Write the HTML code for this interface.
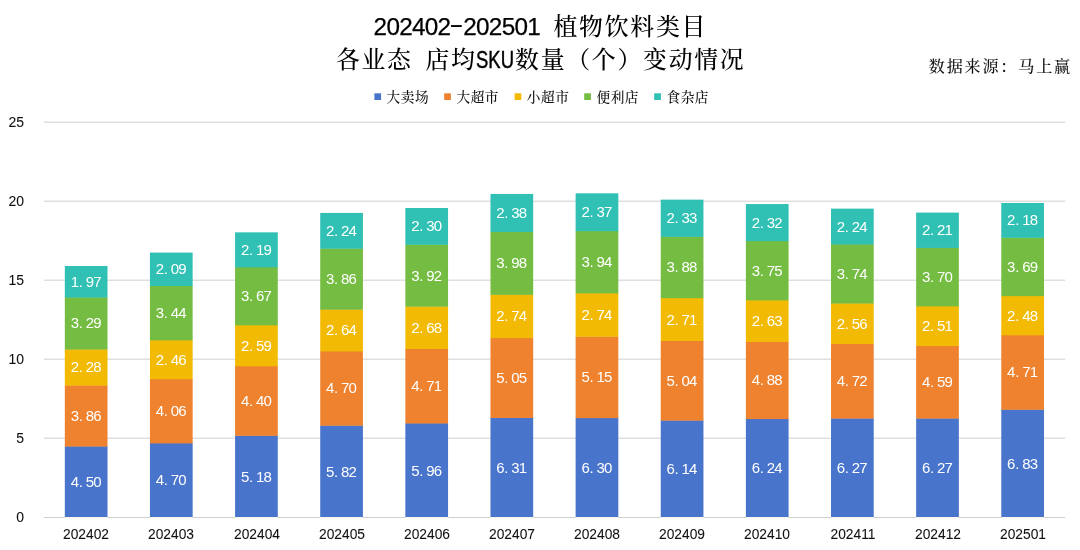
<!DOCTYPE html>
<html lang="zh-CN"><head><meta charset="utf-8"><title>植物饮料类目 店均SKU数量</title>
<style>
html,body{margin:0;padding:0;background:#fff;}
body{width:1080px;height:550px;position:relative;overflow:hidden;font-family:"Liberation Sans","Noto Sans CJK SC",sans-serif;color:#111;}
svg{position:absolute;left:0;top:0;}
.yl{position:absolute;left:0;width:24.1px;text-align:right;font-size:15.2px;line-height:16px;height:16px;color:#111;-webkit-text-stroke:0.08px #111;transform:scaleX(.92);transform-origin:100% 50%;}
.xl{position:absolute;width:86px;text-align:center;font-size:15.2px;line-height:16px;height:16px;top:526px;color:#111;-webkit-text-stroke:0.08px #111;transform:scaleX(.907);transform-origin:50% 50%;}
.dl{position:absolute;width:60px;text-align:center;color:#fff;font-size:15px;letter-spacing:-0.84px;line-height:16px;height:16px;font-family:"Liberation Sans",sans-serif;white-space:nowrap;}
.dl i{display:inline-block;width:7px;padding-left:0.5px;text-align:left;font-style:normal;letter-spacing:0;}
.t{position:absolute;left:0;width:1080px;text-align:center;font-size:24.3px;letter-spacing:-0.71px;line-height:32px;height:32px;color:#000;-webkit-text-stroke:0.25px #000;font-family:"Liberation Sans",sans-serif;white-space:nowrap;}
.t .k{margin-left:0.7px;margin-right:-0.7px;font-weight:500;-webkit-text-stroke:0;font-size:23.9px;letter-spacing:1.7px;font-family:"Liberation Serif","Noto Serif CJK SC",serif;}
.t .h{display:inline-block;width:12.8px;text-align:center;letter-spacing:0;transform:translateY(-2.5px) scale(1.75,0.95);}
.t .g{display:inline-block;width:12.8px;}
.t .s{-webkit-text-stroke:0.45px #000;display:inline-block;width:38.4px;letter-spacing:0;text-align:left;transform:scaleX(.76);transform-origin:0 50%;}
.src{position:absolute;font-weight:500;font-size:16.1px;letter-spacing:1.8px;line-height:20px;font-family:"Liberation Serif","Noto Serif CJK SC",serif;color:#111;white-space:nowrap;}
.lg{position:absolute;font-weight:500;font-size:13.7px;letter-spacing:0.55px;line-height:16px;height:16px;font-family:"Liberation Serif","Noto Serif CJK SC",serif;color:#111;white-space:nowrap;}
</style></head><body>
<svg width="1080" height="550" viewBox="0 0 1080 550">
<line x1="43.8" x2="1065.2" y1="438.28" y2="438.28" stroke="#dfdfdf" stroke-width="1.4"/>
<line x1="43.8" x2="1065.2" y1="359.26" y2="359.26" stroke="#dfdfdf" stroke-width="1.4"/>
<line x1="43.8" x2="1065.2" y1="280.24" y2="280.24" stroke="#dfdfdf" stroke-width="1.4"/>
<line x1="43.8" x2="1065.2" y1="201.22" y2="201.22" stroke="#dfdfdf" stroke-width="1.4"/>
<line x1="43.8" x2="1065.2" y1="122.20" y2="122.20" stroke="#dfdfdf" stroke-width="1.4"/>
<line x1="43.8" x2="1065.2" y1="517.50" y2="517.50" stroke="#cfcfcf" stroke-width="1.1"/>
<rect x="64.82" y="446.18" width="42.7" height="70.82" fill="#4874CB"/><rect x="64.82" y="385.18" width="42.7" height="61.40" fill="#EE822F"/><rect x="64.82" y="349.15" width="42.7" height="36.43" fill="#F2BA02"/><rect x="64.82" y="297.15" width="42.7" height="52.40" fill="#75BD42"/><rect x="64.82" y="266.02" width="42.7" height="31.53" fill="#30C0B4"/><rect x="64.82" y="517.00" width="42.7" height="1.2" fill="#f8f5ee"/>
<rect x="149.95" y="443.02" width="42.7" height="73.98" fill="#4874CB"/><rect x="149.95" y="378.86" width="42.7" height="64.56" fill="#EE822F"/><rect x="149.95" y="339.98" width="42.7" height="39.28" fill="#F2BA02"/><rect x="149.95" y="285.61" width="42.7" height="54.77" fill="#75BD42"/><rect x="149.95" y="252.58" width="42.7" height="33.43" fill="#30C0B4"/><rect x="149.95" y="517.00" width="42.7" height="1.2" fill="#f8f5ee"/>
<rect x="235.08" y="435.44" width="42.7" height="81.56" fill="#4874CB"/><rect x="235.08" y="365.90" width="42.7" height="69.94" fill="#EE822F"/><rect x="235.08" y="324.97" width="42.7" height="41.33" fill="#F2BA02"/><rect x="235.08" y="266.96" width="42.7" height="58.40" fill="#75BD42"/><rect x="235.08" y="232.35" width="42.7" height="35.01" fill="#30C0B4"/><rect x="235.08" y="517.00" width="42.7" height="1.2" fill="#f8f5ee"/>
<rect x="320.22" y="425.32" width="42.7" height="91.68" fill="#4874CB"/><rect x="320.22" y="351.04" width="42.7" height="74.68" fill="#EE822F"/><rect x="320.22" y="309.32" width="42.7" height="42.12" fill="#F2BA02"/><rect x="320.22" y="248.32" width="42.7" height="61.40" fill="#75BD42"/><rect x="320.22" y="212.91" width="42.7" height="35.80" fill="#30C0B4"/><rect x="320.22" y="517.00" width="42.7" height="1.2" fill="#f8f5ee"/>
<rect x="405.35" y="423.11" width="42.7" height="93.89" fill="#4874CB"/><rect x="405.35" y="348.67" width="42.7" height="74.84" fill="#EE822F"/><rect x="405.35" y="306.32" width="42.7" height="42.75" fill="#F2BA02"/><rect x="405.35" y="244.36" width="42.7" height="62.35" fill="#75BD42"/><rect x="405.35" y="208.02" width="42.7" height="36.75" fill="#30C0B4"/><rect x="405.35" y="517.00" width="42.7" height="1.2" fill="#f8f5ee"/>
<rect x="490.48" y="417.58" width="42.7" height="99.42" fill="#4874CB"/><rect x="490.48" y="337.77" width="42.7" height="80.21" fill="#EE822F"/><rect x="490.48" y="294.46" width="42.7" height="43.70" fill="#F2BA02"/><rect x="490.48" y="231.56" width="42.7" height="63.30" fill="#75BD42"/><rect x="490.48" y="193.95" width="42.7" height="38.01" fill="#30C0B4"/><rect x="490.48" y="517.00" width="42.7" height="1.2" fill="#f8f5ee"/>
<rect x="575.62" y="417.73" width="42.7" height="99.27" fill="#4874CB"/><rect x="575.62" y="336.34" width="42.7" height="81.79" fill="#EE822F"/><rect x="575.62" y="293.04" width="42.7" height="43.70" fill="#F2BA02"/><rect x="575.62" y="230.77" width="42.7" height="62.67" fill="#75BD42"/><rect x="575.62" y="193.32" width="42.7" height="37.86" fill="#30C0B4"/><rect x="575.62" y="517.00" width="42.7" height="1.2" fill="#f8f5ee"/>
<rect x="660.75" y="420.26" width="42.7" height="96.74" fill="#4874CB"/><rect x="660.75" y="340.61" width="42.7" height="80.05" fill="#EE822F"/><rect x="660.75" y="297.78" width="42.7" height="43.23" fill="#F2BA02"/><rect x="660.75" y="236.46" width="42.7" height="61.72" fill="#75BD42"/><rect x="660.75" y="199.64" width="42.7" height="37.22" fill="#30C0B4"/><rect x="660.75" y="517.00" width="42.7" height="1.2" fill="#f8f5ee"/>
<rect x="745.88" y="418.68" width="42.7" height="98.32" fill="#4874CB"/><rect x="745.88" y="341.56" width="42.7" height="77.52" fill="#EE822F"/><rect x="745.88" y="300.00" width="42.7" height="41.96" fill="#F2BA02"/><rect x="745.88" y="240.73" width="42.7" height="59.66" fill="#75BD42"/><rect x="745.88" y="204.06" width="42.7" height="37.07" fill="#30C0B4"/><rect x="745.88" y="517.00" width="42.7" height="1.2" fill="#f8f5ee"/>
<rect x="831.02" y="418.21" width="42.7" height="98.79" fill="#4874CB"/><rect x="831.02" y="343.61" width="42.7" height="74.99" fill="#EE822F"/><rect x="831.02" y="303.16" width="42.7" height="40.86" fill="#F2BA02"/><rect x="831.02" y="244.05" width="42.7" height="59.51" fill="#75BD42"/><rect x="831.02" y="208.65" width="42.7" height="35.80" fill="#30C0B4"/><rect x="831.02" y="517.00" width="42.7" height="1.2" fill="#f8f5ee"/>
<rect x="916.15" y="418.21" width="42.7" height="98.79" fill="#4874CB"/><rect x="916.15" y="345.67" width="42.7" height="72.94" fill="#EE822F"/><rect x="916.15" y="306.00" width="42.7" height="40.07" fill="#F2BA02"/><rect x="916.15" y="247.53" width="42.7" height="58.87" fill="#75BD42"/><rect x="916.15" y="212.60" width="42.7" height="35.33" fill="#30C0B4"/><rect x="916.15" y="517.00" width="42.7" height="1.2" fill="#f8f5ee"/>
<rect x="1001.28" y="409.36" width="42.7" height="107.64" fill="#4874CB"/><rect x="1001.28" y="334.92" width="42.7" height="74.84" fill="#EE822F"/><rect x="1001.28" y="295.73" width="42.7" height="39.59" fill="#F2BA02"/><rect x="1001.28" y="237.41" width="42.7" height="58.72" fill="#75BD42"/><rect x="1001.28" y="202.96" width="42.7" height="34.85" fill="#30C0B4"/><rect x="1001.28" y="517.00" width="42.7" height="1.2" fill="#f8f5ee"/>
<rect x="374.4" y="93.3" width="6.7" height="6.7" fill="#4874CB"/>
<rect x="444.2" y="93.3" width="6.7" height="6.7" fill="#EE822F"/>
<rect x="514.6" y="93.3" width="6.7" height="6.7" fill="#F2BA02"/>
<rect x="584.2" y="93.3" width="6.7" height="6.7" fill="#75BD42"/>
<rect x="654.2" y="93.3" width="6.7" height="6.7" fill="#30C0B4"/>
</svg>
<div class="t" style="top:10.7px">202402<span class="h">-</span>202501<span class="g"> </span><span class="k">植物饮料类目</span></div>
<div class="t" style="top:44px"><span class="k">各业态</span><span class="g"> </span><span class="k">店均</span><span class="s">SKU</span><span class="k">数量（个）变动情况</span></div>
<div class="src" style="left:928.8px;top:57.4px">数据来源：马上赢</div>
<div class="lg" style="left:386.6px;top:89.9px">大卖场</div>
<div class="lg" style="left:456.4px;top:89.9px">大超市</div>
<div class="lg" style="left:526.8px;top:89.9px">小超市</div>
<div class="lg" style="left:596.4px;top:89.9px">便利店</div>
<div class="lg" style="left:666.4px;top:89.9px">食杂店</div>
<div class="yl" style="top:509.10px">0</div>
<div class="yl" style="top:430.08px">5</div>
<div class="yl" style="top:351.06px">10</div>
<div class="yl" style="top:272.04px">15</div>
<div class="yl" style="top:193.02px">20</div>
<div class="yl" style="top:114.00px">25</div>
<div class="dl" style="left:55.67px;top:474.04px">4<i>.</i>50</div>
<div class="dl" style="left:55.67px;top:407.98px">3<i>.</i>86</div>
<div class="dl" style="left:55.67px;top:359.46px">2<i>.</i>28</div>
<div class="dl" style="left:55.67px;top:315.45px">3<i>.</i>29</div>
<div class="dl" style="left:55.67px;top:273.88px">1<i>.</i>97</div>
<div class="xl" style="left:43.32px">202402</div>
<div class="dl" style="left:140.80px;top:472.46px">4<i>.</i>70</div>
<div class="dl" style="left:140.80px;top:403.24px">4<i>.</i>06</div>
<div class="dl" style="left:140.80px;top:351.72px">2<i>.</i>46</div>
<div class="dl" style="left:140.80px;top:305.10px">3<i>.</i>44</div>
<div class="dl" style="left:140.80px;top:261.40px">2<i>.</i>09</div>
<div class="xl" style="left:128.45px">202403</div>
<div class="dl" style="left:225.93px;top:468.67px">5<i>.</i>18</div>
<div class="dl" style="left:225.93px;top:392.97px">4<i>.</i>40</div>
<div class="dl" style="left:225.93px;top:337.73px">2<i>.</i>59</div>
<div class="dl" style="left:225.93px;top:288.26px">3<i>.</i>67</div>
<div class="dl" style="left:225.93px;top:241.96px">2<i>.</i>19</div>
<div class="xl" style="left:213.58px">202404</div>
<div class="dl" style="left:311.07px;top:463.61px">5<i>.</i>82</div>
<div class="dl" style="left:311.07px;top:380.48px">4<i>.</i>70</div>
<div class="dl" style="left:311.07px;top:322.48px">2<i>.</i>64</div>
<div class="dl" style="left:311.07px;top:271.12px">3<i>.</i>86</div>
<div class="dl" style="left:311.07px;top:222.92px">2<i>.</i>24</div>
<div class="xl" style="left:298.72px">202405</div>
<div class="dl" style="left:396.20px;top:462.50px">5<i>.</i>96</div>
<div class="dl" style="left:396.20px;top:378.19px">4<i>.</i>71</div>
<div class="dl" style="left:396.20px;top:319.79px">2<i>.</i>68</div>
<div class="dl" style="left:396.20px;top:267.64px">3<i>.</i>92</div>
<div class="dl" style="left:396.20px;top:218.49px">2<i>.</i>30</div>
<div class="xl" style="left:383.85px">202406</div>
<div class="dl" style="left:481.33px;top:459.74px">6<i>.</i>31</div>
<div class="dl" style="left:481.33px;top:369.97px">5<i>.</i>05</div>
<div class="dl" style="left:481.33px;top:308.42px">2<i>.</i>74</div>
<div class="dl" style="left:481.33px;top:255.31px">3<i>.</i>98</div>
<div class="dl" style="left:481.33px;top:205.06px">2<i>.</i>38</div>
<div class="xl" style="left:468.98px">202407</div>
<div class="dl" style="left:566.47px;top:459.82px">6<i>.</i>30</div>
<div class="dl" style="left:566.47px;top:369.34px">5<i>.</i>15</div>
<div class="dl" style="left:566.47px;top:306.99px">2<i>.</i>74</div>
<div class="dl" style="left:566.47px;top:254.21px">3<i>.</i>94</div>
<div class="dl" style="left:566.47px;top:204.35px">2<i>.</i>37</div>
<div class="xl" style="left:554.12px">202408</div>
<div class="dl" style="left:651.60px;top:461.08px">6<i>.</i>14</div>
<div class="dl" style="left:651.60px;top:372.74px">5<i>.</i>04</div>
<div class="dl" style="left:651.60px;top:311.50px">2<i>.</i>71</div>
<div class="dl" style="left:651.60px;top:259.42px">3<i>.</i>88</div>
<div class="dl" style="left:651.60px;top:210.35px">2<i>.</i>33</div>
<div class="xl" style="left:639.25px">202409</div>
<div class="dl" style="left:736.73px;top:460.29px">6<i>.</i>24</div>
<div class="dl" style="left:736.73px;top:372.42px">4<i>.</i>88</div>
<div class="dl" style="left:736.73px;top:313.08px">2<i>.</i>63</div>
<div class="dl" style="left:736.73px;top:262.66px">3<i>.</i>75</div>
<div class="dl" style="left:736.73px;top:214.70px">2<i>.</i>32</div>
<div class="xl" style="left:724.38px">202410</div>
<div class="dl" style="left:821.87px;top:460.05px">6<i>.</i>27</div>
<div class="dl" style="left:821.87px;top:373.21px">4<i>.</i>72</div>
<div class="dl" style="left:821.87px;top:315.68px">2<i>.</i>56</div>
<div class="dl" style="left:821.87px;top:265.90px">3<i>.</i>74</div>
<div class="dl" style="left:821.87px;top:218.65px">2<i>.</i>24</div>
<div class="xl" style="left:809.52px">202411</div>
<div class="dl" style="left:907.00px;top:460.05px">6<i>.</i>27</div>
<div class="dl" style="left:907.00px;top:374.24px">4<i>.</i>59</div>
<div class="dl" style="left:907.00px;top:318.13px">2<i>.</i>51</div>
<div class="dl" style="left:907.00px;top:269.06px">3<i>.</i>70</div>
<div class="dl" style="left:907.00px;top:222.36px">2<i>.</i>21</div>
<div class="xl" style="left:894.65px">202412</div>
<div class="dl" style="left:992.13px;top:455.63px">6<i>.</i>83</div>
<div class="dl" style="left:992.13px;top:364.44px">4<i>.</i>71</div>
<div class="dl" style="left:992.13px;top:307.62px">2<i>.</i>48</div>
<div class="dl" style="left:992.13px;top:258.87px">3<i>.</i>69</div>
<div class="dl" style="left:992.13px;top:212.48px">2<i>.</i>18</div>
<div class="xl" style="left:979.78px">202501</div>
</body></html>
